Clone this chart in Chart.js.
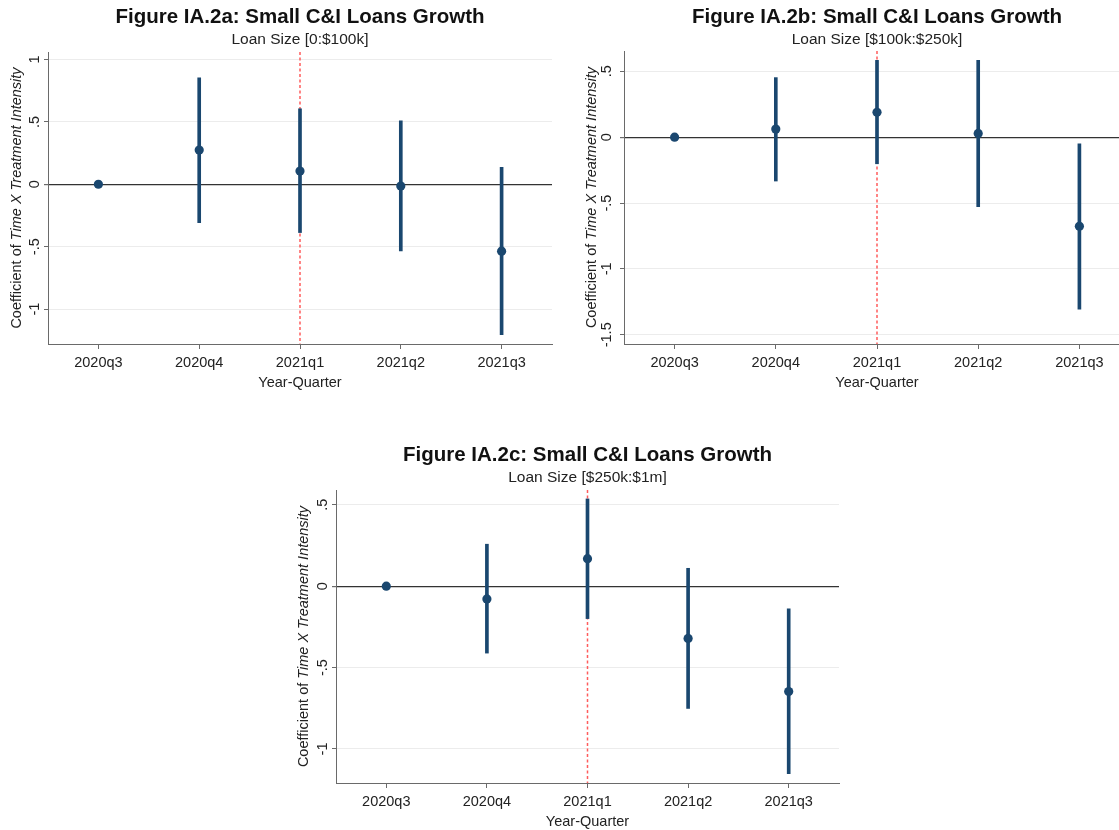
<!DOCTYPE html>
<html>
<head>
<meta charset="utf-8">
<title>Small C&amp;I Loans Growth</title>
<script src="https://cdn.jsdelivr.net/npm/chart.js@4.4.0/dist/chart.umd.min.js"></script>
<style>
  html, body { margin: 0; padding: 0; background: #fff; width: 1119px; height: 830px; overflow: hidden; }
  .panel { position: absolute; }
  canvas { display: block; }
</style>
</head>
<body>
<div class="panel" style="left:0px;top:0px;"><canvas id="figA" width="560" height="400"></canvas></div>
<div class="panel" style="left:560px;top:0px;"><canvas id="figB" width="580" height="400"></canvas></div>
<div class="panel" style="left:280px;top:430px;"><canvas id="figC" width="570" height="405"></canvas></div>
<script>
// Event-study periods
const quarters = ['2020q3', '2020q4', '2021q1', '2021q2', '2021q3'];
const eventQuarter = '2021q1';

// Panel a: loans up to $100k
const coefA = [0, 0.274, 0.106, -0.014, -0.536];
const lowA  = [0, -0.307, -0.387, -0.535, -1.206];
const highA = [0, 0.853, 0.605, 0.509, 0.136];

// Panel b: loans $100k to $250k
const coefB = [0, 0.061, 0.189, 0.028, -0.677];
const lowB  = [0, -0.333, -0.202, -0.528, -1.306];
const highB = [0, 0.452, 0.583, 0.583, -0.051];

// Panel c: loans $250k to $1m
const coefC = [0, -0.078, 0.169, -0.321, -0.647];
const lowC  = [0, -0.411, -0.199, -0.751, -1.152];
const highC = [0, 0.258, 0.536, 0.110, -0.139];

// Axis ranges
const rangeA = [-1.28, 1.06];
const rangeB = [-1.57, 0.654];
const rangeC = [-1.209, 0.591];

const FONT = "'Liberation Sans', Arial, Helvetica, sans-serif";
const NAVY = '#1a476f';
const TEXT = '#222222';
const AXIS = '#6a6a6a';

// Stata-style numbers: .5, -.5, 1, -1.5
function stataNum(v) {
  const s = String(Math.round(v * 10) / 10);
  return s.replace(/^(-?)0\./, '$1.');
}

// Title and subtitle centred over the plot region
const headingPlugin = {
  id: 'heading',
  afterDraw(chart, args, o) {
    const ctx = chart.ctx, a = chart.chartArea;
    const cx = (a.left + a.right) / 2;
    ctx.save();
    ctx.textAlign = 'center';
    ctx.textBaseline = 'middle';
    ctx.fillStyle = '#111';
    ctx.font = 'bold 20.5px ' + FONT;
    ctx.fillText(o.title, cx, o.titleY);
    ctx.fillStyle = TEXT;
    ctx.font = '15.5px ' + FONT;
    ctx.fillText(o.subtitle, cx, o.subtitleY);
    ctx.restore();
  }
};

// Vertical y-axis title with an italic segment
const yTitlePlugin = {
  id: 'yTitle',
  afterDraw(chart, args, o) {
    const ctx = chart.ctx, a = chart.chartArea;
    const parts = [
      { t: 'Coefficient of ', f: '14.5px ' + FONT },
      { t: 'Time X Treatment Intensity', f: 'italic 14.5px ' + FONT }
    ];
    ctx.save();
    let total = 0;
    parts.forEach(p => { ctx.font = p.f; p.w = ctx.measureText(p.t).width; total += p.w; });
    ctx.translate(o.x, (a.top + a.bottom) / 2);
    ctx.rotate(-Math.PI / 2);
    ctx.textAlign = 'left';
    ctx.textBaseline = 'middle';
    ctx.fillStyle = TEXT;
    let x = -total / 2;
    parts.forEach(p => { ctx.font = p.f; ctx.fillText(p.t, x, 0); x += p.w; });
    ctx.restore();
  }
};

// Dashed marker at the treatment quarter
const eventLinePlugin = {
  id: 'eventLine',
  beforeDatasetsDraw(chart, args, o) {
    const ctx = chart.ctx, a = chart.chartArea;
    const x = chart.scales.x.getPixelForValue(quarters.indexOf(o.at));
    ctx.save();
    ctx.strokeStyle = '#ff5c5c';
    ctx.lineWidth = 1.5;
    ctx.setLineDash([3, 2.5]);
    ctx.beginPath();
    ctx.moveTo(x, a.top);
    ctx.lineTo(x, a.bottom);
    ctx.stroke();
    ctx.restore();
  }
};

function makePanel(id, p) {
  const intervals = p.low.map((lo, i) => [lo, p.high[i]]);
  return new Chart(document.getElementById(id), {
    type: 'bar',
    data: {
      labels: quarters,
      datasets: [
        {
          type: 'line',
          data: p.coef,
          showLine: false,
          pointRadius: 4.6,
          pointHoverRadius: 4.6,
          pointBackgroundColor: NAVY,
          pointBorderColor: NAVY,
          pointBorderWidth: 0,
          order: 0
        },
        {
          type: 'bar',
          data: intervals,
          backgroundColor: NAVY,
          borderWidth: 0,
          borderSkipped: false,
          barThickness: 3,
          order: 1
        }
      ]
    },
    options: {
      responsive: false,
      animation: false,
      events: [],
      layout: { padding: p.pad },
      plugins: {
        legend: { display: false },
        tooltip: { enabled: false },
        heading: { title: p.title, subtitle: p.subtitle, titleY: p.titleY, subtitleY: p.subtitleY },
        yTitle: { x: p.yTitleX },
        eventLine: { at: eventQuarter }
      },
      scales: {
        x: {
          type: 'category',
          offset: true,
          afterFit(s) { s.height = 52; },
          grid: { drawOnChartArea: false, drawTicks: true, tickLength: 5, offset: false, tickColor: AXIS },
          border: { color: AXIS, width: 1 },
          ticks: { color: TEXT, font: { family: FONT, size: 14.5 }, padding: 5, maxRotation: 0, autoSkip: false },
          title: { display: true, text: 'Year-Quarter', color: TEXT, font: { family: FONT, size: 14.5 }, padding: { top: 2, bottom: 4 } }
        },
        y: {
          type: 'linear',
          min: p.range[0],
          max: p.range[1],
          afterFit(s) { s.width = p.yWidth; },
          grid: {
            color: c => (c.tick && c.tick.value === 0) ? '#333333' : '#ececec',
            lineWidth: c => (c.tick && c.tick.value === 0) ? 1.2 : 1,
            tickColor: AXIS,
            tickLength: 4,
            drawTicks: true
          },
          border: { color: AXIS, width: 1 },
          ticks: {
            stepSize: 0.5,
            includeBounds: false,
            minRotation: 90,
            maxRotation: 90,
            crossAlign: 'center',
            padding: 1,
            color: TEXT,
            font: { family: FONT, size: 14.5 },
            callback: v => stataNum(v)
          }
        }
      }
    },
    plugins: [headingPlugin, yTitlePlugin, eventLinePlugin]
  });
}

makePanel('figA', {
  coef: coefA, low: lowA, high: highA, range: rangeA,
  title: 'Figure IA.2a: Small C&I Loans Growth', subtitle: 'Loan Size [0:$100k]',
  pad: { left: 22, right: 8, top: 52, bottom: 4 }, yWidth: 26,
  titleY: 17, subtitleY: 40, yTitleX: 17
});

makePanel('figB', {
  coef: coefB, low: lowB, high: highB, range: rangeB,
  title: 'Figure IA.2b: Small C&I Loans Growth', subtitle: 'Loan Size [$100k:$250k]',
  pad: { left: 34, right: 10, top: 51, bottom: 4 }, yWidth: 30,
  titleY: 17, subtitleY: 40, yTitleX: 32
});

makePanel('figC', {
  coef: coefC, low: lowC, high: highC, range: rangeC,
  title: 'Figure IA.2c: Small C&I Loans Growth', subtitle: 'Loan Size [$250k:$1m]',
  pad: { left: 30, right: 11, top: 60, bottom: 0 }, yWidth: 26,
  titleY: 25, subtitleY: 48, yTitleX: 24
});
</script>
</body>
</html>
